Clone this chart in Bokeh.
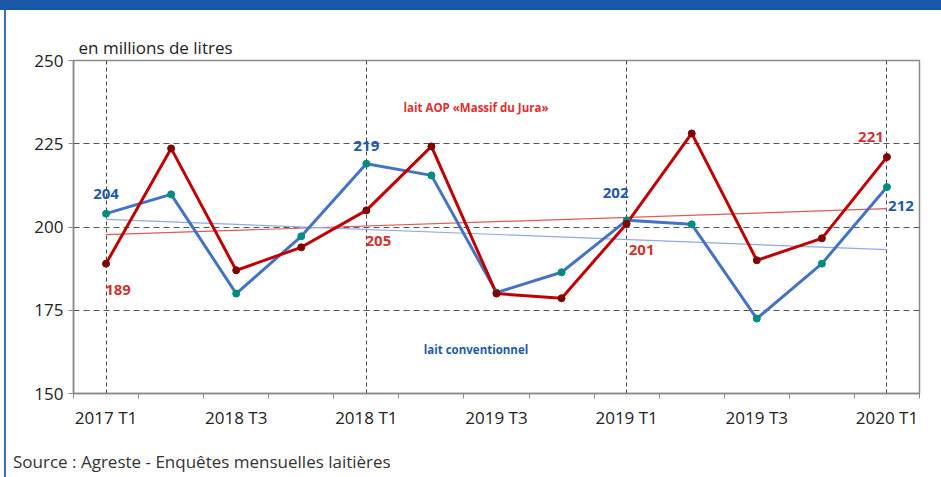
from bokeh.plotting import figure
from bokeh.models import Range1d, FixedTicker, Label, ColumnDataSource, Title, Div
from bokeh.layouts import column, row
from bokeh.embed import file_html
from bokeh.resources import INLINE
from bokeh.core.properties import value

# ---- data ----
tick_labels = ["2017 T1", "2018 T3", "2018 T1", "2019 T3", "2019 T1", "2019 T3", "2020 T1"]
tick_index = [0, 2, 4, 6, 8, 10, 12]
idx = list(range(13))
aop_jura = [189, 223.6, 187, 193.9, 205, 224.2, 180, 178.6, 201, 228.1, 190, 196.6, 221]
conventionnel = [204, 209.8, 180, 197.2, 219, 215.5, 180.3, 186.4, 202, 200.8, 172.5, 189, 212]
trend_x = [0, 12]
trend_aop = [197.7, 205.5]
trend_conv = [202.3, 193.2]
label_index = [0, 4, 8, 12]
aop_labels = [189, 205, 201, 221]
conv_labels = [204, 219, 202, 212]

FONT = "Open Sans"
RED = "#c00000"
RED_MK = "#7f0000"
BLUE = "#4472c4"
TEAL = "#008b80"
FRAME_BLUE = "#1b57a6"

p = figure(width=935, height=436, output_backend="svg", toolbar_location=None,
           x_range=Range1d(-0.5, 12.5), y_range=Range1d(150, 250),
           min_border_left=67, min_border_right=22, min_border_top=50, min_border_bottom=53)
p.outline_line_color = "#8a8a8a"
p.outline_line_width = 1.5
p.background_fill_color = "white"
p.border_fill_color = "white"

# grid
p.ygrid.ticker = FixedTicker(ticks=[175, 200, 225])
p.ygrid.grid_line_color = "#555555"
p.ygrid.grid_line_dash = "6 4"
p.ygrid.grid_line_width = 1
p.xgrid.ticker = FixedTicker(ticks=[0, 4, 8, 12])
p.xgrid.grid_line_color = "#444444"
p.xgrid.grid_line_dash = "4 3"
p.xgrid.grid_line_width = 1

# axes
p.yaxis.ticker = FixedTicker(ticks=[150, 175, 200, 225, 250])
p.yaxis.minor_tick_line_color = None
p.yaxis.major_tick_out = 5
p.yaxis.major_tick_in = 0
p.yaxis.major_label_standoff = 5
p.yaxis.axis_line_color = "#8a8a8a"
p.yaxis.axis_line_width = 1.5
p.yaxis.major_tick_line_color = "#8a8a8a"
p.yaxis.major_label_text_font = FONT
p.yaxis.major_label_text_font_size = "17px"
p.yaxis.major_label_text_color = "#222222"

p.xaxis.ticker = FixedTicker(ticks=tick_index, minor_ticks=[i - 0.5 for i in range(14)])
p.xaxis.major_label_overrides = {i: l for i, l in zip(tick_index, tick_labels)}
p.xaxis.major_tick_out = 0
p.xaxis.major_tick_in = 0
p.xaxis.minor_tick_out = 5
p.xaxis.minor_tick_in = 0
p.xaxis.minor_tick_line_color = "#8a8a8a"
p.xaxis.major_label_standoff = 7
p.xaxis.axis_line_color = "#8a8a8a"
p.xaxis.axis_line_width = 1.5
p.xaxis.major_label_text_font = FONT
p.xaxis.major_label_text_font_size = "17px"
p.xaxis.major_label_text_color = "#222222"

# trend lines
p.line(trend_x, trend_aop, line_color="#e05a5a", line_width=1.2)
p.line(trend_x, trend_conv, line_color="#8eaae6", line_width=1.2)

# series
p.line(idx, conventionnel, line_color=BLUE, line_width=3)
p.line(idx, aop_jura, line_color=RED, line_width=3)
p.scatter(idx, conventionnel, size=7, fill_color=TEAL, line_color=TEAL)
p.scatter(idx, aop_jura, size=7, fill_color=RED_MK, line_color=RED_MK)

# data labels
conv_src = ColumnDataSource(dict(
    x=label_index, y=[conventionnel[i] for i in label_index], t=[str(v) for v in conv_labels],
    dx=[0, 0, -11, 14], dy=[-20, -18, -27, 19]))
aop_src = ColumnDataSource(dict(
    x=label_index, y=[aop_jura[i] for i in label_index], t=[str(v) for v in aop_labels],
    dx=[12, 12, 15, -16], dy=[26, 31, 26, -20]))
p.text(x="x", y="y", text="t", x_offset="dx", y_offset="dy", source=conv_src,
       text_font=value(FONT), text_font_style="bold", text_font_size="15px",
       text_color="#1f5aa8", text_align="center", text_baseline="middle")
p.text(x="x", y="y", text="t", x_offset="dx", y_offset="dy", source=aop_src,
       text_font=value(FONT), text_font_style="bold", text_font_size="15px",
       text_color="#d03535", text_align="center", text_baseline="middle")

# series names
p.add_layout(Label(x=5.685, y=235.9, text="lait AOP «Massif du Jura»", text_font=FONT,
                   text_font_style="bold", text_font_size="11.5px", text_color="#e03030",
                   text_align="center", text_baseline="middle"))
p.add_layout(Label(x=5.685, y=163.2, text="lait conventionnel", text_font=FONT,
                   text_font_style="bold", text_font_size="11.5px", text_color="#1f5aa8",
                   text_align="center", text_baseline="middle"))

# unit (outside the frame)
p.add_layout(Title(text="en millions de litres", align="left", offset=5, standoff=3,
                   text_font=FONT, text_font_size="17px", text_font_style="normal",
                   text_color="#222222"), "above")

# source line below the chart
source_div = Div(text="Source : Agreste - Enquêtes mensuelles laitières",
                 width=928, height=31, margin=(0, 0, 0, 7),
                 styles={"font-family": "Open Sans", "font-size": "17px",
                         "line-height": "31px", "color": "#333333", "white-space": "nowrap"})

# page frame: blue header bar and thin left border
top_bar = Div(text="", width=941, height=10, margin=0,
              styles={"background-color": FRAME_BLUE})
left_gap = Div(text="", width=4, height=467, margin=0)
left_line = Div(text="", width=2, height=467, margin=0,
                styles={"background-color": "#3a6fc0"})
layout = column(top_bar,
                row(left_gap, left_line, column(p, source_div, spacing=0), spacing=0),
                spacing=0)

open("out.html", "w").write(file_html(layout, INLINE))
